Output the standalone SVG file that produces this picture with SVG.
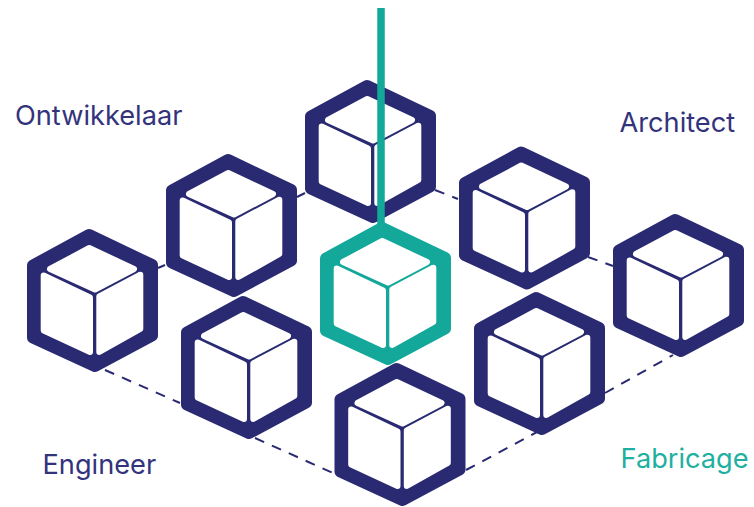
<svg xmlns="http://www.w3.org/2000/svg" width="754" height="507" viewBox="0 0 754 507">
<style>
.hull{fill:currentColor;stroke:currentColor;stroke-width:12;stroke-linejoin:round}
.face{fill:#fff;stroke:#fff;stroke-width:6;stroke-linejoin:round}
.navy{color:#2a2a72}
.teal{color:#13a89a}
.dash{fill:none;stroke:#2a2a72;stroke-width:2;stroke-dasharray:10 8.500}
.tick{fill:none;stroke:#2a2a72;stroke-width:2}
.label{font-family:Inter,"Liberation Sans",sans-serif;font-size:27.200px}
</style>
<defs>
<g id="cube">
<path class="hull" d="M-3-66 60-36V34.500L3 65-59 36.500V-35.500Z"/>
<path class="face" d="M-2.700-53 42-32 3-11.500-42-32Z"/>
<path class="face" d="M-48.300-25.500-2-3.500V51L-48.300 29.500Z"/>
<path class="face" d="M48.300-26.300 7.300-4.700V51L48.300 28Z"/>
</g>
</defs>
<rect width="754" height="507" fill="#fff"/>
<g id="node-left" class="navy" transform="translate(92 301)"><use href="#cube"/></g>
<g id="node-upper-left" class="navy" transform="translate(231 226)"><use href="#cube"/></g>
<g id="node-lower-left" class="navy" transform="translate(246 368)"><use href="#cube"/></g>
<g id="node-top" class="navy" transform="translate(370 152)"><use href="#cube"/></g>
<g id="node-bottom" class="navy" transform="translate(399.500 435)"><use href="#cube"/></g>
<g id="node-upper-right" class="navy" transform="translate(524 218.500)"><use href="#cube"/></g>
<g id="node-lower-right" class="navy" transform="translate(539 364)"><use href="#cube"/></g>
<g id="node-right" class="navy" transform="translate(678 286)"><use href="#cube"/></g>
<g id="node-center" class="teal" transform="translate(385 294)"><use href="#cube"/></g>
<g id="connectors">
<path class="dash" d="M105 370 180 403"/>
<path class="dash" d="M255 438 333 473"/>
<path class="dash" d="M466 470 537 432"/>
<path class="dash" d="M605 393 673 355"/>
<path class="dash" d="M435 190 458 199"/>
<path class="dash" d="M588 257 613 266"/>
<path class="tick" d="M158 268 165 265"/>
<path class="tick" d="M297 197 305 193"/>
<path d="M381 8V226" fill="none" stroke="#13a89a" stroke-width="7.500"/>
</g>
<text id="label-ontwikkelaar" class="label" x="15" y="125" fill="#33337c">Ontwikkelaar</text>
<text id="label-architect" class="label" x="619.500" y="132" fill="#33337c">Architect</text>
<text id="label-engineer" class="label" x="42.500" y="474" fill="#33337c">Engineer</text>
<text id="label-fabricage" class="label" x="620.500" y="468" fill="#1eb0a0">Fabricage</text>
</svg>
